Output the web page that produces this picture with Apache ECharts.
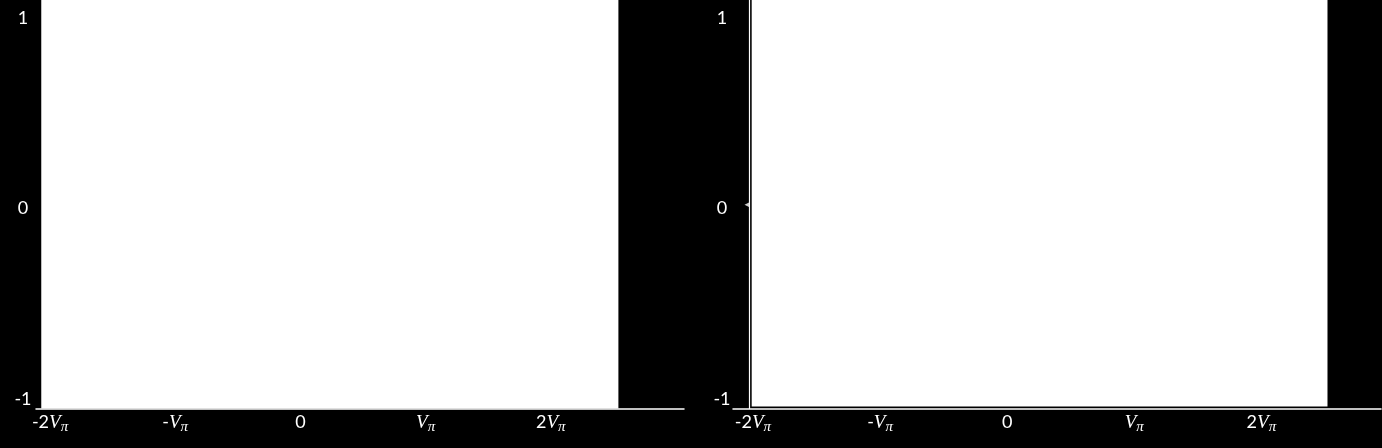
<!DOCTYPE html>
<html>
<head>
<meta charset="utf-8">
<script src="https://cdn.jsdelivr.net/npm/echarts@6/dist/echarts.min.js"></script>
<style>
html,body{margin:0;padding:0;background:#000;}
#chart{width:1382px;height:448px;}
</style>
</head>
<body>
<div id="chart"></div>
<script>
// x ticks (units of V_pi) and their labels
const xTickValues = [-2, -1, 0, 1, 2];
const xTickLabels = ['-2Vπ', '-Vπ', '0', 'Vπ', '2Vπ'];
// y ticks and labels
const yTickValues = [-1, 0, 1];
const yTickLabels = ['-1', '0', '1'];
// axis extents
const leftXRange = [-2.112, 3.064];
const rightXRange = [-2.157, 2.941];
const yRange = [-1.05, 1.095];
// white filled regions [x0, x1], [y0, y1]
const leftBandX = [-2.07, 2.54];
const leftBandY = [-1.05, 1.095];
const rightBandX = [-2.01, 2.52];
const rightBandY = [-1.04, 1.095];
// small marker on right y-axis
const rightMarker = [[-2.047, 0.02]];

const chart = echarts.init(document.getElementById('chart'));
const labelFont = 'Lato, "Open Sans", sans-serif';
const rich = {
  n: {fontFamily: labelFont, fontSize: 18, lineHeight: 24, color: '#fff'},
  v: {fontFamily: '"Liberation Serif", serif', fontStyle: 'italic', fontSize: 19, lineHeight: 24, color: '#fff'},
  p: {fontFamily: '"Liberation Serif", serif', fontStyle: 'italic', fontSize: 15, lineHeight: 14, verticalAlign: 'bottom', color: '#fff'}
};
function xFmt(val) {
  const i = xTickValues.indexOf(Math.round(val * 1000) / 1000);
  const s = i >= 0 ? xTickLabels[i] : '';
  const parts = s.split('Vπ');
  let out = parts[0] ? '{n|' + parts[0] + '}' : '';
  if (parts.length > 1) out += '{v|V}{p|π}';
  return out;
}
function yFmt(val) {
  const i = yTickValues.indexOf(Math.round(val * 1000) / 1000);
  return i >= 0 ? yTickLabels[i] : '';
}
function xAxis(idx, range) {
  return {
    type: 'value', gridIndex: idx, min: range[0], max: range[1], z: 10,
    axisLine: {show: true, onZero: false, lineStyle: {color: '#fff', width: 1.5}},
    axisTick: {show: false},
    splitLine: {show: false},
    axisLabel: {customValues: xTickValues, formatter: xFmt, color: '#fff', fontSize: 18, lineHeight: 24, fontFamily: labelFont, margin: 2, rich: rich}
  };
}
function yAxis(idx, showLine, offset, margin) {
  return {
    type: 'value', gridIndex: idx, min: yRange[0], max: yRange[1], z: 10, offset: offset,
    axisLine: {show: showLine, onZero: false, lineStyle: {color: '#fff', width: 1.2}},
    axisTick: {show: false},
    splitLine: {show: false},
    axisLabel: {customValues: yTickValues, formatter: yFmt, color: '#fff', fontSize: 18, fontFamily: labelFont, margin: margin, align: 'center'}
  };
}
function band(idx, bx, by) {
  return {
    type: 'line', xAxisIndex: idx, yAxisIndex: idx, data: [], z: 1, silent: true,
    markArea: {silent: true, itemStyle: {color: '#fff', opacity: 1},
      data: [[{coord: [bx[0], by[1]]}, {coord: [bx[1], by[0]]}]]}
  };
}
chart.setOption({
  backgroundColor: '#000',
  animation: false,
  grid: [
    {left: 36, width: 648, top: 0, height: 408.5},
    {left: 733, width: 648, top: 0, height: 408.5}
  ],
  xAxis: [xAxis(0, leftXRange), xAxis(1, rightXRange)],
  yAxis: [yAxis(0, false, 0, 13), yAxis(1, true, -16, 27)],
  series: [
    band(0, leftBandX, leftBandY),
    band(1, rightBandX, rightBandY),
    {type: 'scatter', xAxisIndex: 1, yAxisIndex: 1, data: rightMarker, symbol: 'triangle', symbolRotate: 90, symbolSize: 5, itemStyle: {color: '#fff'}, z: 11}
  ]
});
</script>
</body>
</html>
